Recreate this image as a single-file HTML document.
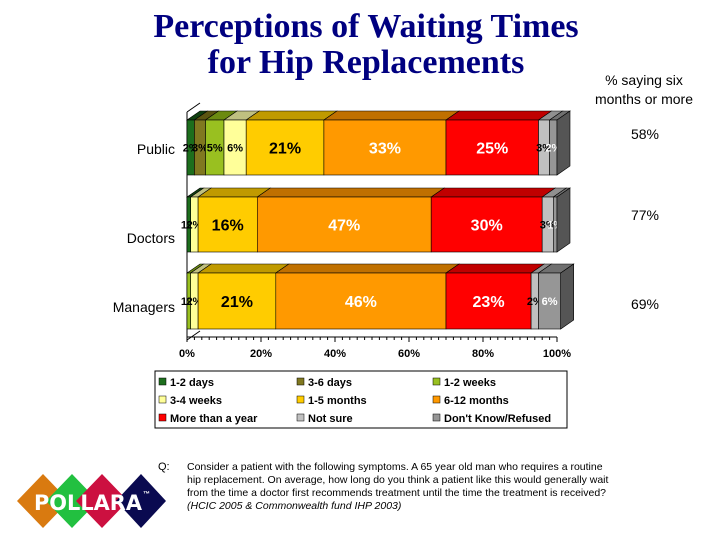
<!DOCTYPE html>
<html><head><meta charset="utf-8"><style>
body{margin:0;background:#fff;width:720px;height:540px;overflow:hidden}
svg{display:block}
</style></head><body>
<svg id="c" width="720" height="540" xmlns="http://www.w3.org/2000/svg" font-family="Liberation Sans, Arial, sans-serif">
<text x="366" y="37" text-anchor="middle" font-family="Liberation Serif, serif" font-weight="bold" font-size="34" fill="#000080">Perceptions of Waiting Times</text>
<text x="366" y="73" text-anchor="middle" font-family="Liberation Serif, serif" font-weight="bold" font-size="34" fill="#000080">for Hip Replacements</text>
<text x="644" y="85" text-anchor="middle" font-size="14" fill="#000">% saying six</text>
<text x="644" y="104" text-anchor="middle" font-size="14" fill="#000">months or more</text>
<g id="plot"></g>
<g id="legend"></g>
<text x="158" y="470" font-size="11" fill="#000">Q:</text>
<g font-size="10.5" fill="#000">
<text x="187" y="470">Consider a patient with the following symptoms.  A 65 year old man who requires a routine</text>
<text x="187" y="483">hip replacement.  On average, how long do you think a patient like this would generally wait</text>
<text x="187" y="496">from the time a doctor first recommends treatment until the time the treatment is received?</text>
<text x="187" y="509" font-style="italic">(HCIC 2005 &amp; Commonwealth fund IHP 2003)</text>
</g>
<g>
<polygon points="43,474 69,501 43,528 17,501" fill="#d97a10"/>
<polygon points="72,474 98,501 72,528 46,501" fill="#22c040"/>
<polygon points="102,474 128,501 102,528 76,501" fill="#cc1040"/>
<polygon points="141,474 166,501 141,528 116,501" fill="#0a0a50"/>
<text x="34" y="510" font-family="DejaVu Sans, sans-serif" font-weight="bold" font-size="21" fill="#fff" textLength="108" lengthAdjust="spacingAndGlyphs">POLLARA</text>
<text x="143" y="496" font-size="7" font-weight="bold" fill="#fff">™</text>
</g>
</svg>
<script>
const categories=["Public","Doctors","Managers"];
const seriesNames=["1-2 days","3-6 days","1-2 weeks","3-4 weeks","1-5 months","6-12 months","More than a year","Not sure","Don't Know/Refused"];
const pub=[2,3,5,6,21,33,25,3,2];
const doc=[1,0,0,2,16,47,30,3,1];
const mgr=[0,0,1,2,21,46,23,2,6];
const sixPlus=["58%","77%","69%"];
const xTicks=[0,20,40,60,80,100];
const data=[pub,doc,mgr];
const colors=["#1d6e1d","#807820","#99c020","#ffff99","#ffcc00","#ff9900","#ff0000","#c0c0c0","#969696"];
const tops=["#104010","#5a5410","#6b8a10","#c0c080","#c09a00","#c07000","#c00000","#909090","#707070"];
const lightText=[false,false,false,false,false,true,true,false,true];
const NS="http://www.w3.org/2000/svg";
const x0=187,x1=557,dx=13,dy=9;
const X=v=>x0+(x1-x0)*v/100;
const rowTop=[120,197,273],rowH=[55,55,56];
const plot=document.getElementById('plot');
function mk(tag,attrs,parent){const e=document.createElementNS(NS,tag);for(const k in attrs)e.setAttribute(k,attrs[k]);(parent||plot).appendChild(e);return e;}
const ax=mk('line',{x1:x0,y1:112,x2:x0,y2:340,stroke:'#000'});


mk('line',{x1:x0,y1:337,x2:x1,y2:337,stroke:'#000'});
mk('line',{x1:x0,y1:112,x2:x0+dx,y2:103,stroke:'#000'});
mk('line',{x1:x0,y1:340,x2:x0+dx,y2:331,stroke:'#000'});
for(let i=0;i<=50;i++){const xx=X(i*2);mk('line',{x1:xx,y1:337,x2:xx,y2:i%10==0?342:340,stroke:'#000'});}
xTicks.forEach(t=>{const e=mk('text',{x:X(t),y:357,'text-anchor':'middle','font-size':11,'font-weight':'bold',fill:'#000'});e.textContent=t+'%';

});
data.forEach((row,r)=>{
 const y=rowTop[r],h=rowH[r];let acc=0;
 row.forEach((v,i)=>{
  if(v<=0){return;}
  const a=X(acc),b=X(acc+v);acc+=v;
  mk('polygon',{points:`${a},${y} ${a+dx},${y-dy} ${b+dx},${y-dy} ${b},${y}`,fill:tops[i],stroke:'#000','stroke-width':0.6});
  const rc=mk('rect',{x:a,y:y,width:b-a,height:h,fill:colors[i],stroke:'#000','stroke-width':0.6});
  
  
  const big=v>=10;
  const t=mk('text',{x:(a+b)/2,y:y+h/2+(big?6:4),'text-anchor':'middle','font-size':big?16:11,'font-weight':'bold',fill:lightText[i]?'#fff':'#000'});
  t.textContent=v+'%';
  
  
 });
 const e=X(acc);
 mk('polygon',{points:`${e},${y} ${e+dx},${y-dy} ${e+dx},${y+h-dy} ${e},${y+h}`,fill:'#555',stroke:'#000','stroke-width':0.6});
 const c=mk('text',{x:175,y:y+(r==0?34:r==1?46:39),'text-anchor':'end','font-size':14,fill:'#000'});c.textContent=categories[r];
 
 
 const s=mk('text',{x:645,y:y+(r==0?19:r==1?23:36),'text-anchor':'middle','font-size':14,fill:'#000'});s.textContent=sixPlus[r];
 
 
});
const lg=document.getElementById('legend');
const box=mk('rect',{x:155,y:371,width:412,height:57,fill:'#fff',stroke:'#000'},lg);


seriesNames.forEach((n,i)=>{
 const cx=159+[0,138,274][i%3],cy=386+Math.floor(i/3)*18;
 mk('rect',{x:cx,y:cy-8,width:7,height:7,fill:colors[i],stroke:'#000','stroke-width':0.5},lg);
 const t=mk('text',{x:cx+11,y:cy,'font-size':11,'font-weight':'bold',fill:'#000'},lg);t.textContent=n;
 
 
});
</script>
</body></html>
